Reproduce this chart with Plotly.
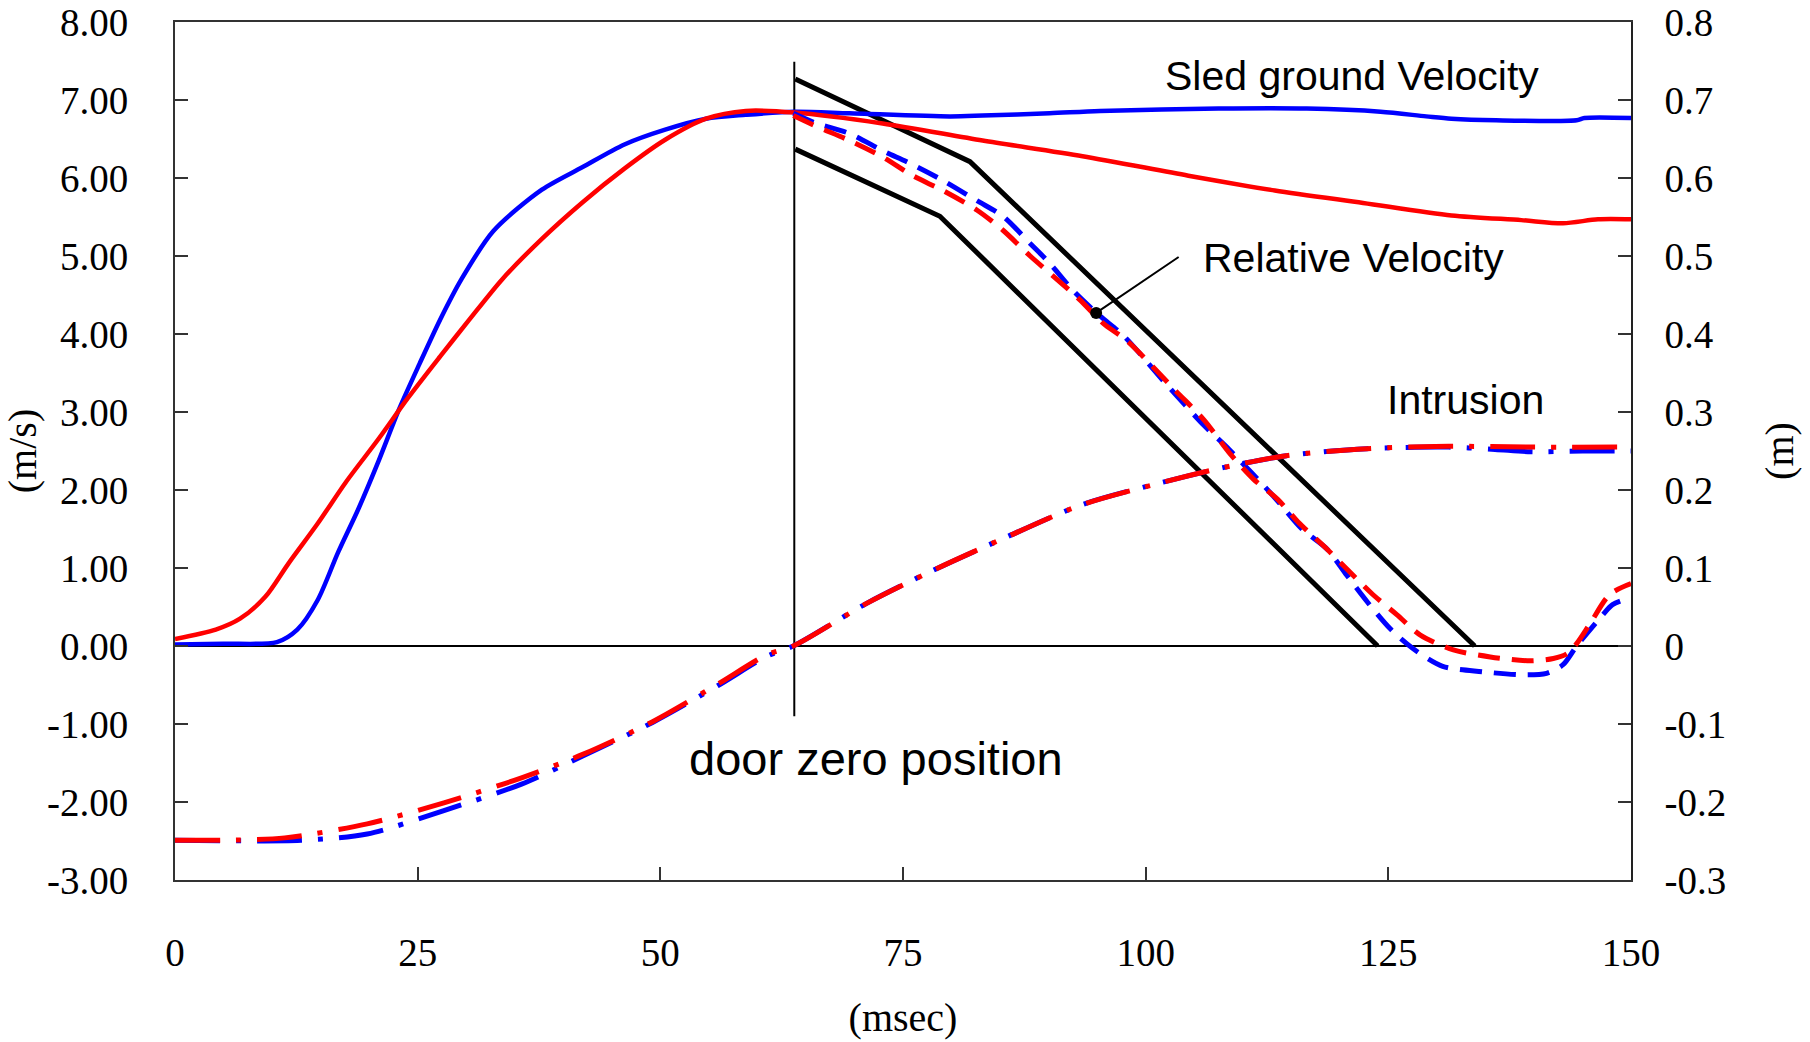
import plotly.graph_objects as go

# ---------------- data ----------------
# Sled ground velocity (m/s), two tests
t_sled_blue = [0, 5.0, 10.5, 12.6, 14.7, 16.8, 18.9, 21.0, 23.1, 25.2, 27.3, 29.5, 32.8, 37.8, 42.0,
               46.3, 50.5, 54.7, 58.8, 63.8, 69.5, 79.8, 83.2, 90.1, 95.3, 107.5, 116.6, 124.2,
               128.9, 131.5, 136.1, 144.4, 145.2, 150]
v_sled_blue = [0.02, 0.03, 0.05, 0.21, 0.59, 1.20, 1.76, 2.38, 3.04, 3.62, 4.18, 4.70, 5.32, 5.85, 6.14,
               6.43, 6.62, 6.76, 6.81, 6.85, 6.83, 6.79, 6.80, 6.83, 6.86, 6.89, 6.89, 6.85,
               6.79, 6.76, 6.74, 6.74, 6.77, 6.77]

t_sled_red = [0, 4.2, 6.7, 9.3, 11.7, 14.7, 17.6, 21.0, 24.0, 27.3, 30.3, 33.7, 37.8, 42.0, 46.3,
              50.5, 54.7, 58.8, 63.8, 72.9, 83.2, 93.5, 104.4, 113.3, 122.4, 131.5, 138.7, 143.0,
              146.6, 150]
v_sled_red = [0.09, 0.21, 0.35, 0.63, 1.06, 1.57, 2.10, 2.66, 3.18, 3.71, 4.18, 4.70, 5.22, 5.69,
              6.12, 6.49, 6.76, 6.86, 6.84, 6.70, 6.48, 6.28, 6.03, 5.84, 5.68, 5.52, 5.46, 5.42,
              5.47, 5.47]

# Relative velocity (m/s)
t_rel_blue = [63.7, 66.1, 69.5, 72.9, 75.7, 79.1, 82.6, 85.3, 88.1, 90.1, 92.5, 95.3, 97.7, 102.6,
              106.0, 108.6, 113.1, 116.1, 118.7, 120.7, 122.8, 125.2, 127.5, 130.6, 134.7, 138.9,
              141.3, 143.0, 144.4, 147.1, 148.1, 150]
v_rel_blue = [6.83, 6.70, 6.57, 6.35, 6.19, 5.97, 5.71, 5.51, 5.16, 4.91, 4.56, 4.23, 3.98, 3.29,
              2.83, 2.52, 1.93, 1.50, 1.24, 0.91, 0.57, 0.22, -0.03, -0.26, -0.33, -0.37,
              -0.35, -0.24, 0.00, 0.40, 0.53, 0.62]

t_rel_red = [63.7, 66.1, 69.5, 72.9, 76.0, 79.1, 82.6, 85.3, 88.1, 90.5, 93.2, 95.6, 98.1, 103.1,
             106.0, 108.6, 111.1, 113.6, 115.7, 118.7, 120.7, 123.4, 125.9, 128.3, 131.7, 135.5,
             139.6, 142.0, 143.4, 144.4, 145.8, 147.8, 150]
v_rel_red = [6.80, 6.66, 6.48, 6.27, 6.03, 5.84, 5.59, 5.33, 5.00, 4.74, 4.44, 4.14, 3.91, 3.27,
             2.90, 2.48, 2.14, 1.88, 1.59, 1.24, 0.99, 0.66, 0.40, 0.14, -0.05, -0.14,
             -0.19, -0.16, -0.10, 0.03, 0.29, 0.66, 0.80]

# Corridor (m/s)
t_corr_upper = [63.9, 81.9, 133.9]
v_corr_upper = [7.27, 6.21, 0.0]
t_corr_lower = [63.9, 78.8, 123.9]
v_corr_lower = [6.37, 5.51, 0.0]

# Intrusion (m), right axis
t_intr_blue = [0, 13.0, 19.8, 27.7, 35.7, 42.0, 49.2, 55.9, 61.0, 63.7, 71.3, 78.1, 85.0, 93.4,
               101.8, 108.1, 114.5, 122.8, 131.2, 136.0, 139.7, 145.0, 150]
d_intr_blue = [-0.249, -0.249, -0.241, -0.211, -0.177, -0.141, -0.098, -0.051, -0.013, 0.0, 0.055,
               0.097, 0.136, 0.181, 0.210, 0.229, 0.244, 0.253, 0.255, 0.252, 0.249, 0.250, 0.250]

t_intr_red = [0, 4.8, 11.3, 19.8, 27.7, 35.7, 42.0, 49.2, 55.9, 61.0, 63.7, 71.3, 78.1, 85.0,
              93.4, 101.8, 108.1, 114.5, 122.8, 131.2, 139.7, 150]
d_intr_red = [-0.249, -0.249, -0.246, -0.228, -0.201, -0.169, -0.139, -0.097, -0.049, -0.011, 0.0,
              0.055, 0.097, 0.136, 0.181, 0.210, 0.229, 0.244, 0.253, 0.256, 0.255, 0.255]

# Reference lines
t_door = [63.8, 63.8]
v_door = [7.49, -0.90]
t_zero = [0, 150]
v_zero = [0, 0]

# Ticks
x_ticks = [0, 25, 50, 75, 100, 125, 150]
y_ticks = [8, 7, 6, 5, 4, 3, 2, 1, 0, -1, -2, -3]
y_ticktext = ["8.00", "7.00", "6.00", "5.00", "4.00", "3.00", "2.00", "1.00", "0.00",
              "-1.00", "-2.00", "-3.00"]
y2_ticks = [0.8, 0.7, 0.6, 0.5, 0.4, 0.3, 0.2, 0.1, 0.0, -0.1, -0.2, -0.3]
y2_ticktext = ["0.8", "0.7", "0.6", "0.5", "0.4", "0.3", "0.2", "0.1", "0",
               "-0.1", "-0.2", "-0.3"]

BLUE = "#0000FF"
RED = "#FF0000"
SERIF = "Times New Roman, Liberation Serif, serif"
SANS = "Arial, Liberation Sans, sans-serif"
SM = 0.8

fig = go.Figure()

fig.add_trace(go.Scatter(x=t_zero, y=v_zero, mode="lines", line=dict(color="black", width=2),
                         showlegend=False, hoverinfo="skip"))
fig.add_trace(go.Scatter(x=t_door, y=v_door, mode="lines", line=dict(color="black", width=2),
                         showlegend=False, hoverinfo="skip"))
fig.add_trace(go.Scatter(x=t_corr_upper, y=v_corr_upper, mode="lines",
                         line=dict(color="black", width=5), showlegend=False))
fig.add_trace(go.Scatter(x=t_corr_lower, y=v_corr_lower, mode="lines",
                         line=dict(color="black", width=5), showlegend=False))
fig.add_trace(go.Scatter(x=t_sled_blue, y=v_sled_blue, mode="lines",
                         line=dict(color=BLUE, width=4.5, shape="spline", smoothing=SM),
                         showlegend=False))
fig.add_trace(go.Scatter(x=t_sled_red, y=v_sled_red, mode="lines",
                         line=dict(color=RED, width=4.5, shape="spline", smoothing=SM),
                         showlegend=False))
fig.add_trace(go.Scatter(x=t_rel_blue, y=v_rel_blue, mode="lines",
                         line=dict(color=BLUE, width=5, dash="22px,12px", shape="spline",
                                   smoothing=SM), showlegend=False))
fig.add_trace(go.Scatter(x=t_rel_red, y=v_rel_red, mode="lines",
                         line=dict(color=RED, width=5, dash="22px,12px", shape="spline",
                                   smoothing=SM), showlegend=False))
fig.add_trace(go.Scatter(x=t_intr_blue, y=d_intr_blue, mode="lines", yaxis="y2",
                         line=dict(color=BLUE, width=5, dash="45px,16px,5px,16px",
                                   shape="spline", smoothing=SM),
                         showlegend=False))
fig.add_trace(go.Scatter(x=t_intr_red, y=d_intr_red, mode="lines", yaxis="y2",
                         line=dict(color=RED, width=5, dash="45px,16px,5px,16px",
                                   shape="spline", smoothing=SM),
                         showlegend=False))

tickfont = dict(family=SERIF, size=39, color="black")

fig.update_layout(
    width=1810, height=1042,
    margin=dict(l=175, r=179, t=22, b=162, autoexpand=False),
    paper_bgcolor="white", plot_bgcolor="white",
    showlegend=False,
    xaxis=dict(range=[0, 150], tickvals=x_ticks, ticktext=[str(v) for v in x_ticks],
               ticks="inside", ticklen=13, tickwidth=1.5, tickcolor="#333",
               showline=True, linecolor="#333", linewidth=2, mirror=True,
               showgrid=False, zeroline=False, tickfont=tickfont, ticklabelstandoff=37,
               automargin=False, ticklabeloverflow="allow",
               title=dict(text="(msec)", font=dict(family=SERIF, size=40, color="black"),
                          standoff=30)),
    yaxis=dict(range=[-3, 8], tickvals=y_ticks, ticktext=y_ticktext,
               ticks="inside", ticklen=13, tickwidth=1.5, tickcolor="#333",
               showline=True, linecolor="#333", linewidth=2,
               showgrid=False, zeroline=False, tickfont=tickfont, ticklabelstandoff=37,
               automargin=False, ticklabeloverflow="allow",
               title=dict(text="(m/s)", font=dict(family=SERIF, size=40, color="black"),
                          standoff=12)),
    yaxis2=dict(range=[-0.3, 0.8], tickvals=y2_ticks, ticktext=y2_ticktext,
                overlaying="y", side="right",
                ticks="inside", ticklen=13, tickwidth=1.5, tickcolor="#333",
                showline=True, linecolor="#222", linewidth=1.5,
                showgrid=False, zeroline=False, tickfont=tickfont, ticklabelstandoff=24,
                automargin=False, ticklabeloverflow="allow",
                title=dict(text="(m)", font=dict(family=SERIF, size=40, color="black"),
                           standoff=40)),
)

labfont = dict(family=SANS, size=41, color="black")
fig.add_annotation(x=121.3, y=7.31, xref="x", yref="y", text="Sled ground Velocity",
                   showarrow=False, font=labfont, xanchor="center", yanchor="middle")
fig.add_annotation(x=121.4, y=4.97, xref="x", yref="y", text="Relative Velocity",
                   showarrow=False, font=labfont, xanchor="center", yanchor="middle")
fig.add_annotation(x=132.9, y=3.16, xref="x", yref="y", text="Intrusion",
                   showarrow=False, font=labfont, xanchor="center", yanchor="middle")
fig.add_annotation(x=72.2, y=-1.44, xref="x", yref="y", text="door zero position",
                   showarrow=False, font=dict(family=SANS, size=47, color="black"),
                   xanchor="center", yanchor="middle")
# pointer for Relative Velocity
fig.add_annotation(x=94.9, y=4.27, xref="x", yref="y", text="", showarrow=True,
                   arrowhead=6, arrowsize=1.5, arrowwidth=2, arrowcolor="black",
                   ax=84, ay=-57)

fig.write_html("out.html")
